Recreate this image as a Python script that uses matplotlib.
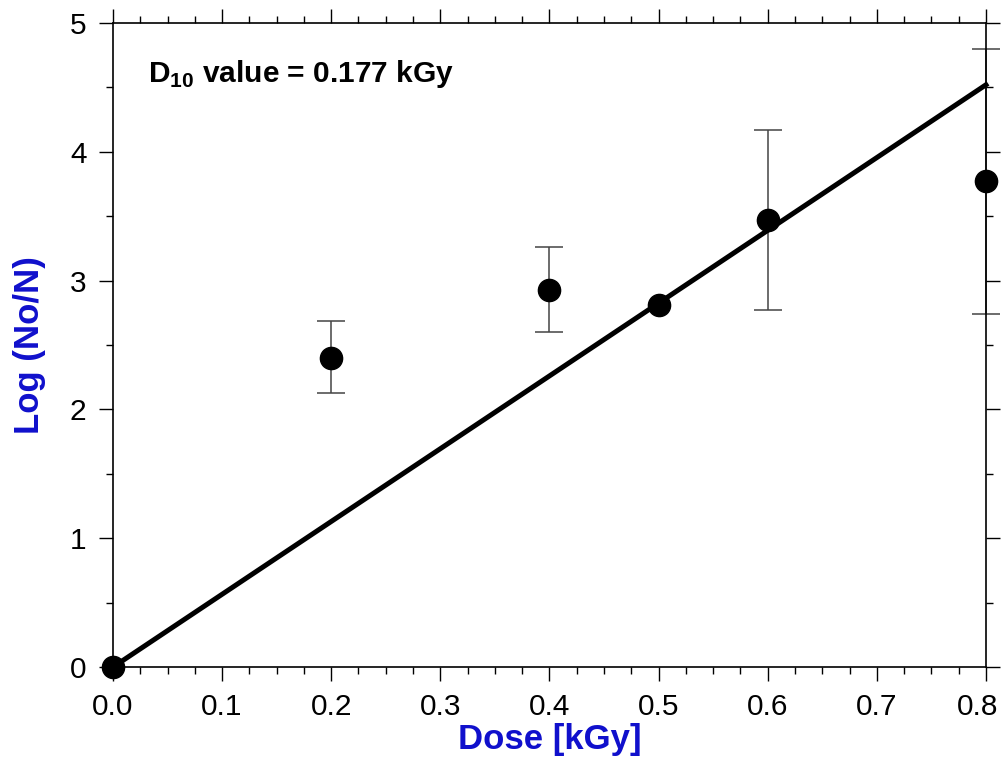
import numpy as np
import matplotlib.pyplot as plt
from matplotlib.ticker import MultipleLocator
from matplotlib.transforms import ScaledTranslation

plt.rcParams['font.family'] = ['Liberation Sans', 'DejaVu Sans']
plt.rcParams['mathtext.fontset'] = 'custom'
plt.rcParams['mathtext.rm'] = 'Liberation Sans'
plt.rcParams['mathtext.bf'] = 'Liberation Sans:bold'

# survival data
dose = [0.0, 0.2, 0.4, 0.5, 0.6, 0.8]
log_red = [0.0, 2.40, 2.93, 2.81, 3.47, 3.77]
err_low = [0.0, 0.27, 0.33, 0.0, 0.70, 1.03]
err_high = [0.0, 0.29, 0.33, 0.0, 0.70, 1.03]
d10 = 0.177

fig = plt.figure(figsize=(10.04, 7.65), dpi=100)
ax = fig.add_axes([0.1125, 0.128, 0.8695, 0.842])

# linear fit through the origin, slope = 1/D10
fit_x = np.array([0.0, 0.8])
ax.plot(fit_x, fit_x / d10, color='black', lw=3.6, zorder=2, clip_on=False)

# only points with a spread get error bars
has_err = [i for i in range(len(dose)) if err_low[i] > 0 or err_high[i] > 0]
ax.errorbar([dose[i] for i in has_err], [log_red[i] for i in has_err],
            yerr=[[err_low[i] for i in has_err], [err_high[i] for i in has_err]],
            fmt='none', ecolor='#444444', elinewidth=1.1, capsize=10,
            capthick=1.1, zorder=1, clip_on=False)
ax.plot(dose, log_red, 'o', color='black', ms=16, zorder=3, clip_on=False)

ax.set_xlim(0, 0.8)
ax.set_ylim(0, 5)
ax.xaxis.set_major_locator(MultipleLocator(0.1))
ax.xaxis.set_minor_locator(MultipleLocator(0.025))
ax.yaxis.set_major_locator(MultipleLocator(1))
ax.yaxis.set_minor_locator(MultipleLocator(0.5))
ax.xaxis.set_major_formatter(plt.FuncFormatter(lambda v, p: f'{v:.1f}'))

ax.tick_params(which='both', direction='out', top=True, right=True,
               width=1, labelsize=21.5, colors='black')
ax.tick_params(which='major', length=10, pad=9)
ax.tick_params(which='minor', length=5)
for s in ax.spines.values():
    s.set_linewidth(1.2)

ax.set_xlabel('Dose [kGy]', fontsize=25, fontweight='bold', color='#1010CC',
              labelpad=1)
ax.set_ylabel('Log (No/N)', fontsize=25, fontweight='bold', color='#1010CC',
              labelpad=17)

ax.text(0.032, 4.54, r'D$_{\mathbf{10}}$ value = 0.177 kGy', fontsize=21.5,
        fontweight='bold', va='baseline')

# nudge the last x label left so it stays inside the figure
fig.canvas.draw()
last = ax.xaxis.get_major_ticks()[-1].label1
for t in ax.xaxis.get_major_ticks():
    if abs(t.get_loc() - 0.8) < 1e-9:
        last = t.label1
last.set_transform(last.get_transform() +
                   ScaledTranslation(-6 / 72, 0, fig.dpi_scale_trans))

fig.savefig('out.png', dpi=100)
